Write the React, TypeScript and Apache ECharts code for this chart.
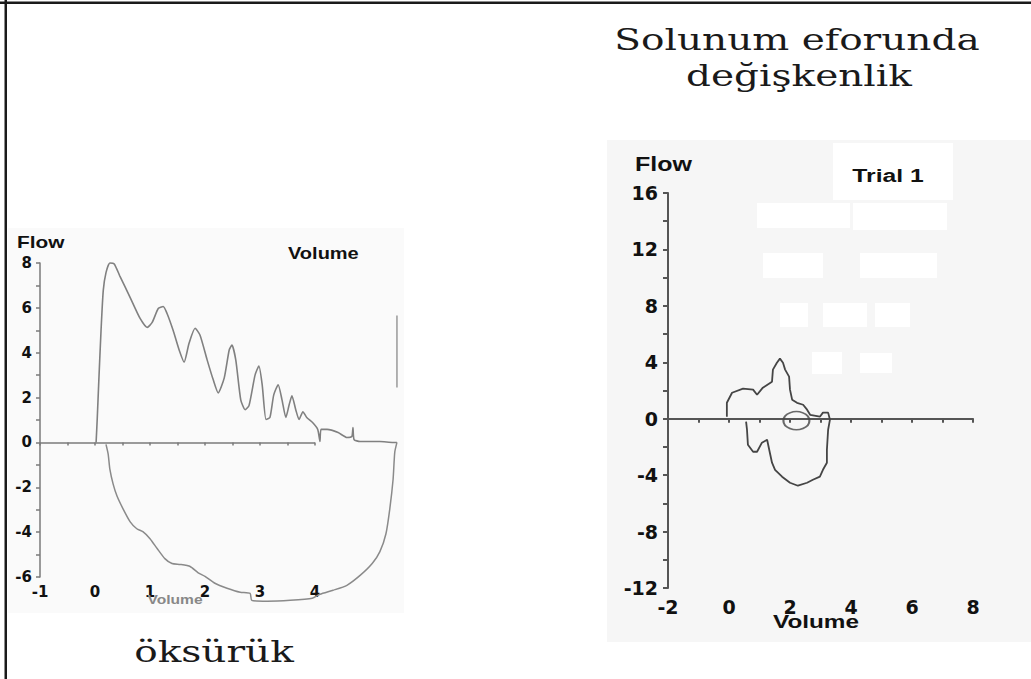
import React, { useEffect, useRef } from "react";
import * as echarts from "echarts";

// ---- Left chart ("öksürük"): cough flow-volume curve ----
const coughExpVolume = [0.02, 0.04, 0.07, 0.11, 0.15, 0.2, 0.27, 0.35, 0.45, 0.64, 0.82, 0.95, 1.04, 1.15, 1.24, 1.31, 1.42, 1.53, 1.62, 1.71, 1.82, 1.91, 2.04, 2.15, 2.24, 2.35, 2.44, 2.49, 2.56, 2.65, 2.73, 2.8, 2.91, 2.98, 3.04, 3.11, 3.18, 3.25, 3.33, 3.4, 3.47, 3.53, 3.58, 3.65, 3.71, 3.78, 3.85, 3.96, 4.05, 4.09, 4.11, 4.22, 4.42, 4.58, 4.67, 4.69, 4.71, 4.82, 5.18, 5.42, 5.49];
const coughExpFlow = [0, 1.02, 2.79, 5.0, 6.77, 7.57, 8.0, 7.96, 7.43, 6.46, 5.53, 5.13, 5.35, 5.97, 6.06, 5.75, 5.0, 4.12, 3.58, 4.42, 5.09, 4.78, 3.67, 2.79, 2.21, 2.88, 4.12, 4.34, 3.67, 1.9, 1.46, 1.64, 3.0, 3.41, 2.57, 1.02, 1.11, 2.12, 2.57, 1.9, 1.11, 1.68, 2.08, 1.46, 1.02, 1.37, 1.11, 0.88, 0.58, 0.04, 0.58, 0.58, 0.44, 0.22, 0.27, 0.66, 0.13, 0.04, 0.04, 0, 0];
const coughInspVolume = [0.2, 0.24, 0.27, 0.33, 0.4, 0.51, 0.64, 0.76, 0.87, 1.0, 1.13, 1.27, 1.4, 1.55, 1.73, 1.87, 2.0, 2.18, 2.4, 2.64, 2.82, 2.85, 3.13, 3.55, 3.95, 4.09, 4.33, 4.58, 4.82, 5.04, 5.18, 5.29, 5.36, 5.42, 5.45, 5.49];
const coughInspFlow = [-0.09, -0.53, -1.19, -1.86, -2.39, -2.96, -3.54, -3.85, -3.98, -4.29, -4.73, -5.18, -5.4, -5.44, -5.53, -5.8, -5.97, -6.28, -6.5, -6.68, -6.73, -7.04, -7.08, -7.04, -6.95, -6.77, -6.59, -6.37, -5.93, -5.4, -4.87, -4.07, -2.96, -1.64, -0.44, 0];
const coughTraceVolume = [5.49, 5.49];
const coughTraceFlow = [5.66, 2.45];
const coughTickValues = [-1, -0.5, 0, 0.5, 1, 1.5, 2, 2.5, 3, 3.5, 4];
const coughLabelValues = [-1, 0, 1, 2, 3, 4];
const coughAxisStart = -1;
const coughAxisEnd = 4;

// ---- Right chart ("Trial 1"): variable effort loop ----
const trialVolume = [-0.07, -0.07, 0.1, 0.46, 0.79, 0.92, 1.11, 1.41, 1.44, 1.57, 1.67, 1.77, 1.84, 1.97, 2.0, 2.07, 2.23, 2.43, 2.56, 2.66, 2.98, 3.08, 3.25, 3.31, 3.25, 3.21, 3.21, 3.08, 2.98, 2.75, 2.56, 2.26, 2.0, 1.74, 1.51, 1.41, 1.34, 1.25, 1.08, 0.92, 0.79, 0.62, 0.59, 0.56];
const trialFlow = [0.14, 1.13, 1.84, 2.13, 2.06, 1.7, 2.2, 2.62, 3.48, 3.97, 4.26, 3.97, 3.48, 2.98, 2.06, 1.35, 1.13, 0.99, 0.64, 0.28, 0.14, 0.43, 0.43, -0.07, -0.78, -2.2, -3.12, -3.62, -4.11, -4.33, -4.54, -4.75, -4.54, -4.11, -3.62, -3.12, -2.41, -1.49, -1.7, -2.34, -2.34, -1.84, -0.78, -0.21];
const trialLoopVolume = [2.21];
const trialLoopFlow = [-0.14];

// ---- Texts ----
const titleLines = ["Solunum eforunda", "değişkenlik"];
const leftCaption = "öksürük";
const flowLabel = "Flow";
const volumeLabel = "Volume";
const trialLabel = "Trial 1";

const zip = (xs: number[], ys: number[]) => xs.map((x, i) => [x, ys[i]]);

export default function App() {
  const ref = useRef<HTMLDivElement>(null);
  useEffect(() => {
    if (!ref.current) return;
    const chart = echarts.init(ref.current, undefined, { renderer: "svg" });
    const leftAxisColor = "#7a7a7a";
    const rightAxisColor = "#555";
    const labelL = { fontFamily: "DejaVu Sans", fontWeight: "bold", fontSize: 15, color: "#111" };
    const labelR = { fontFamily: "DejaVu Sans", fontWeight: "bold", fontSize: 19, color: "#111" };
    const bold = (s: number) => `bold ${s}px "Liberation Sans"`;
    const whiteRects = [
      [833, 143, 120, 57],
      [757, 203, 93, 25],
      [853, 203, 94, 27],
      [763, 253, 60, 25],
      [790, 255, 30, 22],
      [860, 253, 77, 25],
      [780, 303, 28, 24],
      [823, 303, 44, 24],
      [875, 303, 35, 24],
      [812, 352, 30, 22],
      [860, 353, 32, 20],
    ];
    const option: any = {
      animation: false,
      backgroundColor: "#ffffff",
      grid: [
        { left: 40, top: 263, width: 357.5, height: 314 },
        { left: 668, top: 193, width: 305, height: 395 },
      ],
      xAxis: [
        {
          gridIndex: 0, type: "value", min: -1, max: 5.5, interval: 0.5, position: "bottom",
          axisLine: { show: false, onZero: true },
          axisTick: { show: true, length: 3, customValues: coughTickValues, lineStyle: { color: leftAxisColor, width: 1.5 } },
          axisLabel: { show: false }, splitLine: { show: false },
        },
        {
          gridIndex: 0, type: "value", min: -1, max: 5.5, interval: 0.5, position: "bottom",
          axisLine: { show: false, onZero: false }, axisTick: { show: false },
          axisLabel: { ...labelL, margin: 7, customValues: coughLabelValues }, splitLine: { show: false },
        },
        {
          gridIndex: 1, type: "value", min: -2, max: 8, interval: 1, position: "bottom",
          axisLine: { show: true, onZero: true, lineStyle: { color: rightAxisColor, width: 2 } },
          axisTick: { show: true, length: 4, lineStyle: { color: rightAxisColor, width: 2 } },
          axisLabel: { show: false }, splitLine: { show: false },
        },
        {
          gridIndex: 1, type: "value", min: -2, max: 8, interval: 2, position: "bottom",
          axisLine: { show: false, onZero: false }, axisTick: { show: false },
          axisLabel: { ...labelR, margin: 9 }, splitLine: { show: false },
        },
      ],
      yAxis: [
        {
          gridIndex: 0, type: "value", min: -6, max: 8, interval: 2,
          axisLine: { show: true, onZero: false, lineStyle: { color: leftAxisColor, width: 1.5 } },
          axisTick: { show: true, length: 4, lineStyle: { color: leftAxisColor, width: 1.5 } },
          minorTick: { show: true, splitNumber: 2, length: 4, lineStyle: { color: leftAxisColor, width: 1.5 } },
          axisLabel: { ...labelL, margin: 8 }, splitLine: { show: false },
        },
        {
          gridIndex: 1, type: "value", min: -12, max: 16, interval: 4,
          axisLine: { show: true, onZero: false, lineStyle: { color: rightAxisColor, width: 2 } },
          axisTick: { show: true, length: 5, lineStyle: { color: rightAxisColor, width: 2 } },
          minorTick: { show: true, splitNumber: 2, length: 5, lineStyle: { color: rightAxisColor, width: 2 } },
          axisLabel: { ...labelR, margin: 10 }, splitLine: { show: false },
        },
      ],
      series: [
        {
          type: "line", name: "cough expiration", xAxisIndex: 0, yAxisIndex: 0, clip: false,
          data: zip(coughExpVolume, coughExpFlow), symbol: "none", smooth: 0.2,
          lineStyle: { color: "#808080", width: 1.6 },
          markLine: {
            silent: true, symbol: "none", label: { show: false },
            lineStyle: { color: leftAxisColor, width: 1.5, type: "solid" },
            data: [[{ coord: [coughAxisStart, 0] }, { coord: [coughAxisEnd, 0] }]],
          },
        },
        {
          type: "line", name: "cough inspiration", xAxisIndex: 0, yAxisIndex: 0, clip: false,
          data: zip(coughInspVolume, coughInspFlow), symbol: "none", smooth: 0.2,
          lineStyle: { color: "#8a8a8a", width: 1.5 },
        },
        {
          type: "line", name: "trace", xAxisIndex: 0, yAxisIndex: 0, clip: false,
          data: zip(coughTraceVolume, coughTraceFlow), symbol: "none",
          lineStyle: { color: "#999", width: 1.5 },
        },
        {
          type: "line", name: "Trial 1", xAxisIndex: 2, yAxisIndex: 1, clip: false,
          data: zip(trialVolume, trialFlow), symbol: "none",
          lineStyle: { color: "#454545", width: 1.8 },
        },
        {
          type: "scatter", name: "loop", xAxisIndex: 2, yAxisIndex: 1, clip: false,
          data: zip(trialLoopVolume, trialLoopFlow), symbol: "circle", symbolSize: [26, 18],
          itemStyle: { color: "rgba(0,0,0,0)", borderColor: "#454545", borderWidth: 1.8 },
        },
      ],
      graphic: [
        { type: "rect", z: -10, shape: { x: 8, y: 228, width: 396, height: 385 }, style: { fill: "#fafafa" } },
        { type: "rect", z: -10, shape: { x: 607, y: 140, width: 424, height: 502 }, style: { fill: "#f6f6f6" } },
        ...whiteRects.map(([x, y, w, h]) => ({
          type: "rect", z: -9, shape: { x, y, width: w, height: h }, style: { fill: "#ffffff" },
        })),
        { type: "rect", z: 20, shape: { x: 0, y: 1.5, width: 1031, height: 2.5 }, style: { fill: "#1a1a1a" } },
        { type: "rect", z: 20, shape: { x: 4.5, y: 0, width: 2.5, height: 679 }, style: { fill: "#1a1a1a" } },
        {
          type: "text", z: 20, x: 797, y: 40, scaleX: 1.3,
          style: { text: titleLines[0], font: '30px "DejaVu Serif"', fill: "#1a1a1a", textAlign: "center", textVerticalAlign: "middle" },
        },
        {
          type: "text", z: 20, x: 799, y: 76, scaleX: 1.3,
          style: { text: titleLines[1], font: '30px "DejaVu Serif"', fill: "#1a1a1a", textAlign: "center", textVerticalAlign: "middle" },
        },
        {
          type: "text", z: 20, x: 214, y: 652, scaleX: 1.3,
          style: { text: leftCaption, font: '30px "DejaVu Serif"', fill: "#1a1a1a", textAlign: "center", textVerticalAlign: "middle" },
        },
        {
          type: "text", z: 20, x: 17, y: 242, scaleX: 1.3,
          style: { text: flowLabel, font: bold(16), fill: "#111", textAlign: "left", textVerticalAlign: "middle" },
        },
        {
          type: "text", z: 20, x: 288, y: 254, scaleX: 1.25,
          style: { text: volumeLabel, font: bold(16), fill: "#111", textAlign: "left", textVerticalAlign: "middle" },
        },
        {
          type: "text", z: 20, x: 175, y: 600, scaleX: 1.3,
          style: { text: volumeLabel, font: bold(12), fill: "#888", textAlign: "center", textVerticalAlign: "middle" },
        },
        {
          type: "text", z: 20, x: 635, y: 164, scaleX: 1.25,
          style: { text: flowLabel, font: bold(20), fill: "#111", textAlign: "left", textVerticalAlign: "middle" },
        },
        {
          type: "text", z: 20, x: 888, y: 176, scaleX: 1.3,
          style: { text: trialLabel, font: bold(19), fill: "#111", textAlign: "center", textVerticalAlign: "middle" },
        },
        {
          type: "text", z: 20, x: 816, y: 621, scaleX: 1.28,
          style: { text: volumeLabel, font: bold(19), fill: "#111", textAlign: "center", textVerticalAlign: "middle" },
        },
      ],
    };
    chart.setOption(option);
    return () => chart.dispose();
  }, []);
  return (
    <div
      ref={ref}
      style={{ position: "absolute", left: 0, top: 0, width: 1031, height: 679, background: "#fff" }}
    />
  );
}
